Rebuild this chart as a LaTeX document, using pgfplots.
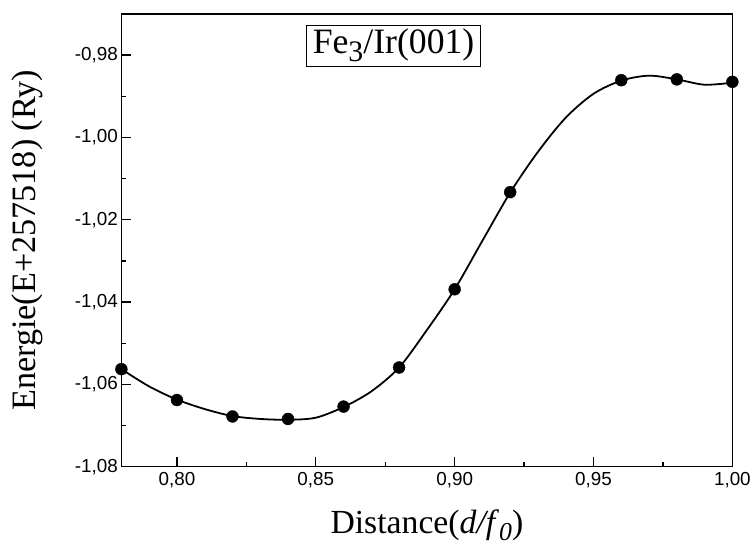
\documentclass[border=0pt]{standalone}
\usepackage{fontspec}
\setmainfont{Liberation Serif}
\newfontfamily\arial{Liberation Sans}
\usepackage{pgfplots}
\pgfplotsset{compat=1.18}
\begin{document}
\begin{tikzpicture}
\begin{axis}[
  scale only axis, width=614bp, height=455bp,
  xmin=0.78, xmax=1.00, ymin=-1.08, ymax=-0.97,
  xtick={0.80,0.85,0.90,0.95,1.00},
  xticklabels={{0,80},{0,85},{0,90},{0,95},{1,00}},
  ytick={-1.08,-1.06,-1.04,-1.02,-1.00,-0.98},
  yticklabels={{-1,08},{-1,06},{-1,04},{-1,02},{-1,00},{-0,98}},
  minor x tick num=1, minor y tick num=1,
  tick align=inside, xtick pos=left, ytick pos=left,
  major tick length=10bp, minor tick length=5bp,
  axis line style={line width=1.6bp},
  every tick/.style={line width=1.3bp, black},
  tick label style={font=\arial\fontsize{19}{19}\selectfont},
  xticklabel style={yshift=-2bp},
  xlabel={Distance(\textit{d/f}\raisebox{-0.2em}{\fontsize{26}{26}\selectfont\textit{0}})},
  ylabel={Energie(E+257518) (Ry)},
  xlabel style={font=\fontsize{34}{34}\selectfont, at={(axis description cs:0.5,-0.148)}, anchor=base, inner sep=0pt},
  ylabel style={font=\fontsize{34.5}{34.5}\selectfont, at={(axis description cs:-0.179,0.5)}, anchor=north, inner sep=0pt, rotate=0},
]
% spline curve as drawn in the reference
\addplot[black, line width=1.8bp, smooth, no markers] table {
x y
0.78 -1.0563
0.79 -1.0605
0.80 -1.0637
0.81 -1.0660
0.82 -1.0677
0.83 -1.0684
0.84 -1.0686
0.85 -1.0681
0.86 -1.0655
0.87 -1.0617
0.88 -1.0559
0.89 -1.0468
0.90 -1.0369
0.91 -1.0251
0.92 -1.0134
0.93 -1.0035
0.94 -0.9952
0.95 -0.9894
0.96 -0.9862
0.97 -0.9850
0.98 -0.9859
0.99 -0.9872
1.00 -0.9867
};
% computed points
\addplot[only marks, mark=*, mark size=6bp, mark options={fill=black, draw=black}] table {
x y
0.78 -1.0563
0.80 -1.0638
0.82 -1.0678
0.84 -1.0684
0.86 -1.0654
0.88 -1.0559
0.90 -1.0369
0.92 -1.0133
0.96 -0.9861
0.98 -0.9859
1.00 -0.9865
};
\node[draw, line width=0.8bp, inner xsep=6bp, inner ysep=4bp, font=\fontsize{36}{36}\selectfont] at (axis cs:0.878,-0.9777) {Fe\raisebox{-0.22em}{\fontsize{30}{30}\selectfont 3}/Ir(001)};
\end{axis}
\path (current axis.south west) +(-122bp,-81bp) (current axis.north east) +(18bp,14bp);
\end{tikzpicture}
\end{document}
